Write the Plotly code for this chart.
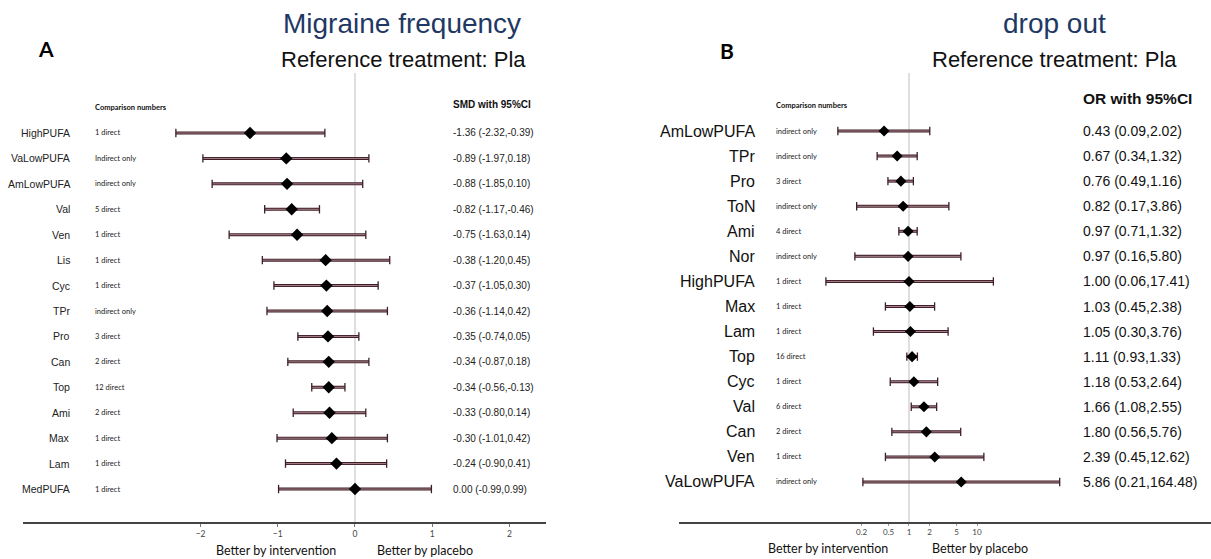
import plotly.graph_objects as go

# ---------------- data ----------------
# Panel A: Migraine frequency (SMD)
a_names = ["HighPUFA", "VaLowPUFA", "AmLowPUFA", "Val", "Ven", "Lis", "Cyc", "TPr",
           "Pro", "Can", "Top", "Ami", "Max", "Lam", "MedPUFA"]
a_comp = ["1 direct", "Indirect only", "indirect only", "5 direct", "1 direct", "1 direct",
          "1 direct", "indirect only", "3 direct", "2 direct", "12 direct", "2 direct",
          "1 direct", "1 direct", "1 direct"]
a_est = [-1.36, -0.89, -0.88, -0.82, -0.75, -0.38, -0.37, -0.36, -0.35, -0.34, -0.34, -0.33, -0.30, -0.24, 0.00]
a_lo = [-2.32, -1.97, -1.85, -1.17, -1.63, -1.20, -1.05, -1.14, -0.74, -0.87, -0.56, -0.80, -1.01, -0.90, -0.99]
a_hi = [-0.39, 0.18, 0.10, -0.46, 0.14, 0.45, 0.30, 0.42, 0.05, 0.18, -0.13, 0.14, 0.42, 0.41, 0.99]
a_ticks = [-2, -1, 0, 1, 2]

# Panel B: drop out (OR)
b_names = ["AmLowPUFA", "TPr", "Pro", "ToN", "Ami", "Nor", "HighPUFA", "Max", "Lam",
           "Top", "Cyc", "Val", "Can", "Ven", "VaLowPUFA"]
b_comp = ["indirect only", "indirect only", "3 direct", "indirect only", "4 direct",
          "indirect only", "1 direct", "1 direct", "1 direct", "16 direct", "1 direct",
          "6 direct", "2 direct", "1 direct", "indirect only"]
b_est = [0.43, 0.67, 0.76, 0.82, 0.97, 0.97, 1.00, 1.03, 1.05, 1.11, 1.18, 1.66, 1.80, 2.39, 5.86]
b_lo = [0.09, 0.34, 0.49, 0.17, 0.71, 0.16, 0.06, 0.45, 0.30, 0.93, 0.53, 1.08, 0.56, 0.45, 0.21]
b_hi = [2.02, 1.32, 1.16, 3.86, 1.32, 5.80, 17.41, 2.38, 3.76, 1.33, 2.64, 2.55, 5.76, 12.62, 164.48]
b_ticks = [0.2, 0.5, 1, 2, 5, 10]
b_ticktext = ["0.2", "0.5", "1", "2", "5", "10"]

# ---------------- styling / layout constants ----------------
W, H = 1211, 559
ARIAL = "Liberation Sans, Arial, sans-serif"
CAL = "Lato, Open Sans, sans-serif"
OUTER = "#3e1f27"
INNER = "#c69ca4"
TITLE_COL = "#1f3864"


def px_x(p):
    return p / W


def px_y(p):
    return 1 - p / H


y_dom = [px_y(522), px_y(73)]

fig = go.Figure()


def add_forest(est, lo, hi, xa, ya, msize):
    n = len(est)
    idx = list(range(n))
    xs, ys = [], []
    for i in idx:
        xs += [lo[i], hi[i], None]
        ys += [i, i, None]
    fig.add_trace(go.Scatter(x=xs, y=ys, mode="lines", xaxis=xa, yaxis=ya,
                             line=dict(color=OUTER, width=3), hoverinfo="skip", showlegend=False))
    fig.add_trace(go.Scatter(x=xs, y=ys, mode="lines", xaxis=xa, yaxis=ya,
                             line=dict(color=INNER, width=0.8), hoverinfo="skip", showlegend=False))
    fig.add_trace(go.Scatter(x=lo + hi, y=idx + idx, mode="markers", xaxis=xa, yaxis=ya,
                             marker=dict(symbol="line-ns", size=6, line=dict(color=OUTER, width=1.3)),
                             hoverinfo="skip", showlegend=False))
    fig.add_trace(go.Scatter(x=est, y=idx, mode="markers", xaxis=xa, yaxis=ya,
                             marker=dict(symbol="diamond", size=msize, color="black"),
                             showlegend=False))


add_forest(a_est, a_lo, a_hi, "x", "y", 9.5)
add_forest(b_est, b_lo, b_hi, "x2", "y2", 8.5)

# reference lines
fig.add_shape(type="line", xref="x", yref="y domain", x0=0, x1=0, y0=0, y1=1,
              line=dict(color="#d4d4d4", width=1.5), layer="below")
fig.add_shape(type="line", xref="x2", yref="y2 domain", x0=1, x1=1, y0=0, y1=1,
              line=dict(color="#d4d4d4", width=1.5), layer="below")

ann = []
# row labels
for i in range(len(a_names)):
    ann.append(dict(x=px_x(72), y=i, xref="paper", yref="y", text=a_names[i], showarrow=False,
                    xanchor="right", yanchor="middle", font=dict(family=ARIAL, size=10.5, color="#222")))
    ann.append(dict(x=px_x(93), y=i, xref="paper", yref="y", text=a_comp[i], showarrow=False,
                    xanchor="left", yanchor="middle", font=dict(family=CAL, size=7.5, color="#222")))
    ann.append(dict(x=px_x(451), y=i, xref="paper", yref="y",
                    text=f"{a_est[i]:.2f} ({a_lo[i]:.2f},{a_hi[i]:.2f})", showarrow=False,
                    xanchor="left", yanchor="middle", font=dict(family=ARIAL, size=10, color="#222")))
for i in range(len(b_names)):
    ann.append(dict(x=px_x(757), y=i, xref="paper", yref="y2", text=b_names[i], showarrow=False,
                    xanchor="right", yanchor="middle", font=dict(family=ARIAL, size=16, color="#111")))
    ann.append(dict(x=px_x(774), y=i, xref="paper", yref="y2", text=b_comp[i], showarrow=False,
                    xanchor="left", yanchor="middle", font=dict(family=CAL, size=7.5, color="#222")))
    ann.append(dict(x=px_x(1081), y=i, xref="paper", yref="y2",
                    text=f"{b_est[i]:.2f} ({b_lo[i]:.2f},{b_hi[i]:.2f})", showarrow=False,
                    xanchor="left", yanchor="middle", font=dict(family=ARIAL, size=14, color="#111")))

# headers
ann += [
    dict(x=px_x(93), y=px_y(107), xref="paper", yref="paper", text="<b>Comparison numbers</b>",
         showarrow=False, xanchor="left", yanchor="middle", font=dict(family=CAL, size=7.5, color="#111")),
    dict(x=px_x(451), y=px_y(104), xref="paper", yref="paper", text="<b>SMD with 95%CI</b>",
         showarrow=False, xanchor="left", yanchor="middle", font=dict(family=ARIAL, size=10, color="#111")),
    dict(x=px_x(774), y=px_y(105), xref="paper", yref="paper", text="<b>Comparison numbers</b>",
         showarrow=False, xanchor="left", yanchor="middle", font=dict(family=CAL, size=7.5, color="#111")),
    dict(x=px_x(1081), y=px_y(99), xref="paper", yref="paper", text="<b>OR with 95%CI</b>",
         showarrow=False, xanchor="left", yanchor="middle", font=dict(family=ARIAL, size=15.5, color="#111")),
    # titles
    dict(x=px_x(402), y=px_y(24), xref="paper", yref="paper", text="Migraine frequency",
         showarrow=False, xanchor="center", yanchor="middle", font=dict(family=ARIAL, size=28, color=TITLE_COL)),
    dict(x=px_x(403), y=px_y(59), xref="paper", yref="paper", text="Reference treatment: Pla",
         showarrow=False, xanchor="center", yanchor="middle", font=dict(family=ARIAL, size=22, color="#111")),
    dict(x=px_x(1054), y=px_y(24), xref="paper", yref="paper", text="drop out",
         showarrow=False, xanchor="center", yanchor="middle", font=dict(family=ARIAL, size=28, color=TITLE_COL)),
    dict(x=px_x(1054), y=px_y(59), xref="paper", yref="paper", text="Reference treatment: Pla",
         showarrow=False, xanchor="center", yanchor="middle", font=dict(family=ARIAL, size=22, color="#111")),
    # panel letters
    dict(x=px_x(46), y=px_y(48), xref="paper", yref="paper", text="<b>A</b>",
         showarrow=False, xanchor="center", yanchor="middle", font=dict(family=CAL, size=21, color="#000")),
    dict(x=px_x(727), y=px_y(50), xref="paper", yref="paper", text="<b>B</b>",
         showarrow=False, xanchor="center", yanchor="middle", font=dict(family=CAL, size=21, color="#000")),
    # direction labels
    dict(x=px_x(276), y=px_y(550), xref="paper", yref="paper", text="Better by intervention",
         showarrow=False, xanchor="center", yanchor="middle", font=dict(family=CAL, size=12.5, color="#111")),
    dict(x=px_x(425), y=px_y(550), xref="paper", yref="paper", text="Better by placebo",
         showarrow=False, xanchor="center", yanchor="middle", font=dict(family=CAL, size=12.5, color="#111")),
    dict(x=px_x(828), y=px_y(548), xref="paper", yref="paper", text="Better by intervention",
         showarrow=False, xanchor="center", yanchor="middle", font=dict(family=CAL, size=12.5, color="#111")),
    dict(x=px_x(980), y=px_y(548), xref="paper", yref="paper", text="Better by placebo",
         showarrow=False, xanchor="center", yanchor="middle", font=dict(family=CAL, size=12.5, color="#111")),
]

fig.update_layout(
    width=W, height=H, autosize=False,
    margin=dict(l=0, r=0, t=0, b=0),
    paper_bgcolor="white", plot_bgcolor="white",
    showlegend=False,
    annotations=ann,
    xaxis=dict(domain=[px_x(23), px_x(546)], range=[-4.30, 2.474], anchor="y",
               tickvals=a_ticks, ticks="outside", ticklen=3, tickcolor="#777",
               showline=True, linecolor="#444", linewidth=1.5, showgrid=False, zeroline=False,
               tickfont=dict(family=CAL, size=8.5, color="#444")),
    yaxis=dict(domain=y_dom, range=[15.297, -2.359], visible=False, showgrid=False, zeroline=False),
    xaxis2=dict(domain=[px_x(679), 1.0], type="log", range=[-3.382, 4.441], anchor="y2",
                tickvals=b_ticks, ticktext=b_ticktext, ticks="outside", ticklen=2, tickcolor="#999",
                showline=True, linecolor="#444", linewidth=1.5, showgrid=False, zeroline=False,
                tickfont=dict(family=CAL, size=8, color="#444")),
    yaxis2=dict(domain=y_dom, range=[15.596, -2.314], visible=False, showgrid=False, zeroline=False),
)

fig.write_html("out.html")
